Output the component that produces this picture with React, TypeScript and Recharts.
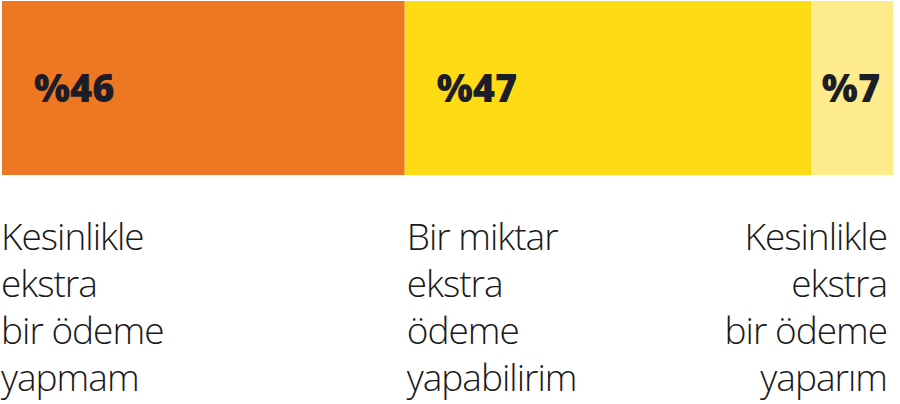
import { BarChart, Bar, XAxis, YAxis, LabelList } from 'recharts'

const categories = [
  ['Kesinlikle', 'ekstra', 'bir ödeme', 'yapmam'],
  ['Bir miktar', 'ekstra', 'ödeme', 'yapabilirim'],
  ['Kesinlikle', 'ekstra', 'bir ödeme', 'yaparım'],
]
// share of the bar each segment takes
const shares = [45.2, 45.6, 9.2]
const valueLabels = ['%46', '%47', '%7']
const colors = ['#ED7723', '#FEDC15', '#FEEC8C']
const keys = ['s0', 's1', 's2']

const row: Record<string, number | string> = { name: 'all' }
keys.forEach((k, i) => {
  row[k] = shares[i]
})
const data = [row]

const makeValueLabel = (i: number) => (props: any) => {
  const { x, y, width, height } = props
  const last = i === shares.length - 1
  return (
    <text
      x={last ? x + width / 2 - 1 : x + 32}
      y={y + height / 2 + 14}
      textAnchor={last ? 'middle' : 'start'}
      fontFamily="'Open Sans', sans-serif"
      fontWeight={800}
      fontSize={38}
      fill="#1d1d27"
    >
      {valueLabels[i]}
    </text>
  )
}

const makeCategoryLabel = (i: number) => (props: any) => {
  const { x, y, width, height } = props
  const anchor = i === 2 ? 'end' : 'start'
  const tx = i === 0 ? x - 1 : i === 1 ? x + 2 : x + width - 6
  const top = y + height + 75
  return (
    <text
      x={tx}
      y={top}
      textAnchor={anchor}
      fontFamily="'Open Sans', sans-serif"
      fontWeight={300}
      fontSize={37}
      letterSpacing={-1}
      fill="#1a1a1a"
    >
      {categories[i].map((line, j) => (
        <tspan key={j} x={tx} y={top + j * 47}>
          {line}
        </tspan>
      ))}
    </text>
  )
}

export default function App() {
  return (
    <div style={{ width: 900, height: 404 }}>
      <style>{'body{margin:0}'}</style>
      <BarChart
        width={900}
        height={404}
        data={data}
        layout="vertical"
        margin={{ top: 1, right: 7, bottom: 229, left: 2 }}
        barCategoryGap={0}
      >
        <XAxis type="number" domain={[0, 100]} hide />
        <YAxis type="category" dataKey="name" hide />
        {keys.map((k, i) => (
          <Bar key={k} dataKey={k} stackId="a" fill={colors[i]} isAnimationActive={false}>
            <LabelList dataKey={k} content={makeValueLabel(i)} />
            <LabelList dataKey={k} content={makeCategoryLabel(i)} />
          </Bar>
        ))}
      </BarChart>
    </div>
  )
}
